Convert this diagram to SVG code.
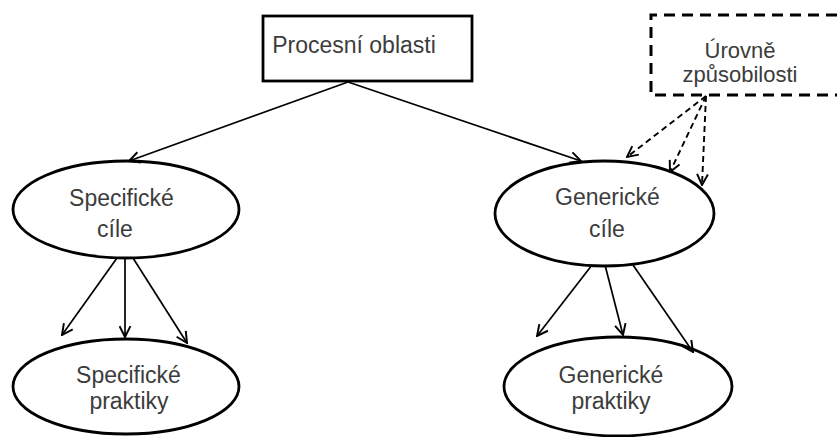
<svg xmlns="http://www.w3.org/2000/svg" width="837" height="437" viewBox="0 0 837 437">
  <style>
    .lbl { font-family: "Liberation Sans", Arial, sans-serif; font-size: 23px; fill: #3c3c3c; text-anchor: middle; }
    .small { font-size: 22px; }
    .shape { fill: #ffffff; stroke: #000000; stroke-width: 2.8; }
    .dashbox { fill: none; stroke: #000000; stroke-width: 3; stroke-dasharray: 11 7; }
    .edge { stroke: #000000; stroke-width: 1.7; fill: none; marker-end: url(#arrow); }
    .dashed { stroke-dasharray: 6 4; stroke-width: 1.9; }
  </style>
  <defs>
    <marker id="arrow" viewBox="0 0 12 12" refX="11" refY="6" markerWidth="13" markerHeight="13" markerUnits="userSpaceOnUse" orient="auto">
      <path d="M1,1 L11,6 L1,11" fill="none" stroke="#000000" stroke-width="1.8"/>
    </marker>
  </defs>
  <rect width="837" height="437" fill="#ffffff"/>

  <g id="procesni-oblasti">
    <rect class="shape" x="263" y="16" width="209" height="65"/>
    <text class="lbl" x="354" y="53">Procesní oblasti</text>
  </g>

  <g id="urovne-zpusobilosti">
    <!-- box runs past the right border, so only three sides are drawn -->
    <path class="dashbox" d="M837,15 H651 V95 H837"/>
    <text class="lbl small" x="740" y="58">Úrovně</text>
    <text class="lbl small" x="740" y="82">způsobilosti</text>
  </g>

  <g id="specificke-cile">
    <ellipse class="shape" cx="126" cy="209.5" rx="113" ry="48.5"/>
    <text class="lbl" x="121.5" y="206">Specifické</text>
    <text class="lbl" x="115" y="237">cíle</text>
  </g>

  <g id="genericke-cile">
    <ellipse class="shape" cx="604.5" cy="213.5" rx="109.5" ry="52.5"/>
    <text class="lbl" x="607.5" y="205">Generické</text>
    <text class="lbl" x="607" y="237">cíle</text>
  </g>

  <g id="specificke-praktiky">
    <ellipse class="shape" cx="126" cy="386.5" rx="113" ry="47.5"/>
    <text class="lbl" x="128.5" y="383">Specifické</text>
    <text class="lbl" x="129" y="409">praktiky</text>
  </g>

  <g id="genericke-praktiky">
    <ellipse class="shape" cx="618" cy="386.5" rx="114" ry="49.5"/>
    <text class="lbl" x="611" y="383">Generické</text>
    <text class="lbl" x="611" y="409">praktiky</text>
  </g>

  <g id="connectors">
    <!-- process areas to goals -->
    <line class="edge" x1="348" y1="82" x2="129" y2="161"/>
    <line class="edge" x1="348" y1="82" x2="581" y2="161"/>
    <!-- capability levels to generic goals -->
    <line class="edge dashed" x1="706" y1="96" x2="627" y2="157"/>
    <line class="edge dashed" x1="706" y1="96" x2="670" y2="172"/>
    <line class="edge dashed" x1="706" y1="96" x2="702" y2="185"/>
    <!-- specific goals to specific practices -->
    <line class="edge" x1="117" y1="258" x2="62" y2="335"/>
    <line class="edge" x1="125" y1="258" x2="125" y2="337"/>
    <line class="edge" x1="133" y1="258" x2="187" y2="343"/>
    <!-- generic goals to generic practices -->
    <line class="edge" x1="592" y1="265" x2="537" y2="336"/>
    <line class="edge" x1="605" y1="265" x2="623" y2="335"/>
    <line class="edge" x1="633" y1="265" x2="693" y2="352"/>
  </g>
</svg>
